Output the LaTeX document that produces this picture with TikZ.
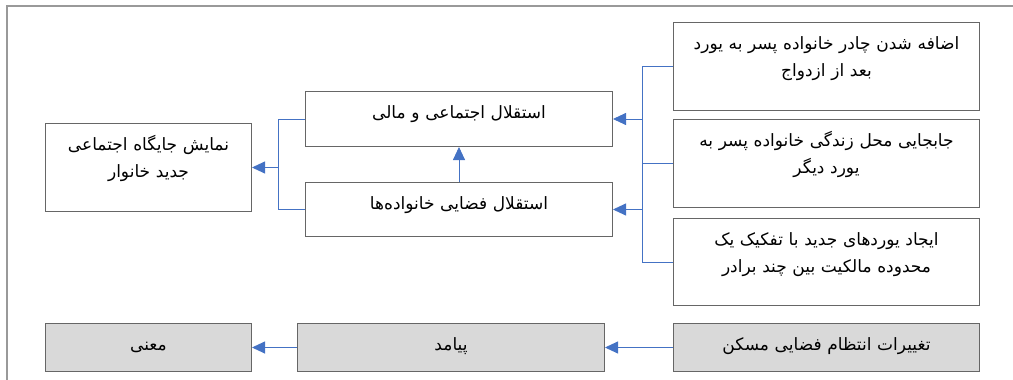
\documentclass[tikz,border=0pt]{standalone}
\usepackage{fontspec}
\newfontfamily\arabicfont[Script=Arabic]{DejaVu Sans}
\TeXXeTstate=1
\usepackage{tikz}
\usetikzlibrary{arrows.meta,positioning}
\definecolor{lnblue}{RGB}{68,114,196}
\newcommand{\fa}[1]{\beginR #1\endR}
\begin{document}
\begin{tikzpicture}[x=1pt,y=-1pt,
    bx/.style={draw=black!60,line width=1pt,align=center,anchor=north west,
      inner xsep=0pt,inner ysep=0pt,text height=27pt,text width=#1,
      font=\arabicfont\fontsize{17}{27}\selectfont},
    gbx/.style={bx=#1,fill=black!15,text height=27pt,text depth=21pt},
    ln/.style={color=lnblue,line width=0.9pt},
    arr/.style={ln,-{Triangle[length=13pt,width=12pt]}}]
 \useasboundingbox (0,0) rectangle (1013,380);
 \draw[black!40,line width=1.5pt] (7,380) |- (1013,6);
 % right column
 \node[bx=306pt,text depth=61pt] (adf) at (673,22)
  {\fa{اضافه شدن چادر خانواده پسر به یورد}\\ \fa{بعد از ازدواج}};
 \node[bx=306pt,text depth=61pt] (jbj) at (673,119)
  {\fa{جابجایی محل زندگی خانواده پسر به}\\ \fa{یورد دیگر}};
 \node[bx=306pt,text depth=60pt] (ijd) at (673,218)
  {\fa{ایجاد یوردهای جدید با تفکیک یک}\\ \fa{محدوده مالکیت بین چند برادر}};
 % middle and left
 \node[bx=307pt,text depth=28pt] (est) at (305,91) {\fa{استقلال اجتماعی و مالی}};
 \node[bx=307pt,text depth=27pt] (fza) at (305,182) {\fa{استقلال فضایی خانواده‌ها}};
 \node[bx=206pt,text depth=61pt] (nmj) at (45,123)
  {\fa{نمایش جایگاه اجتماعی}\\ \fa{جدید خانوار}};
 % bottom row
 \node[gbx=306pt] (tgh) at (673,323) {\fa{تغییرات انتظام فضایی مسکن}};
 \node[gbx=307pt] (pym) at (297,323) {\fa{پیامد}};
 \node[gbx=206pt] (mna) at (45,323) {\fa{معنی}};
 \coordinate (rbus) at (642,0);
 \coordinate (lbus) at (278,0);
 \draw[ln] (adf.west) -| (ijd.west -| rbus) -- (ijd.west);
 \draw[ln] (jbj.west) -- (jbj.west -| rbus);
 \draw[ln] (est.west) -| (fza.west -| lbus) -- (fza.west);
 \draw[arr] (est.east -| rbus) -- (est.east);
 \draw[arr] (fza.east -| rbus) -- (fza.east);
 \draw[arr] (fza.north) -- (est.south);
 \draw[arr] (nmj.east -| lbus) -- (nmj.east);
 \draw[arr] (tgh.west) -- (pym.east);
 \draw[arr] (pym.west) -- (mna.east);
\end{tikzpicture}
\end{document}
